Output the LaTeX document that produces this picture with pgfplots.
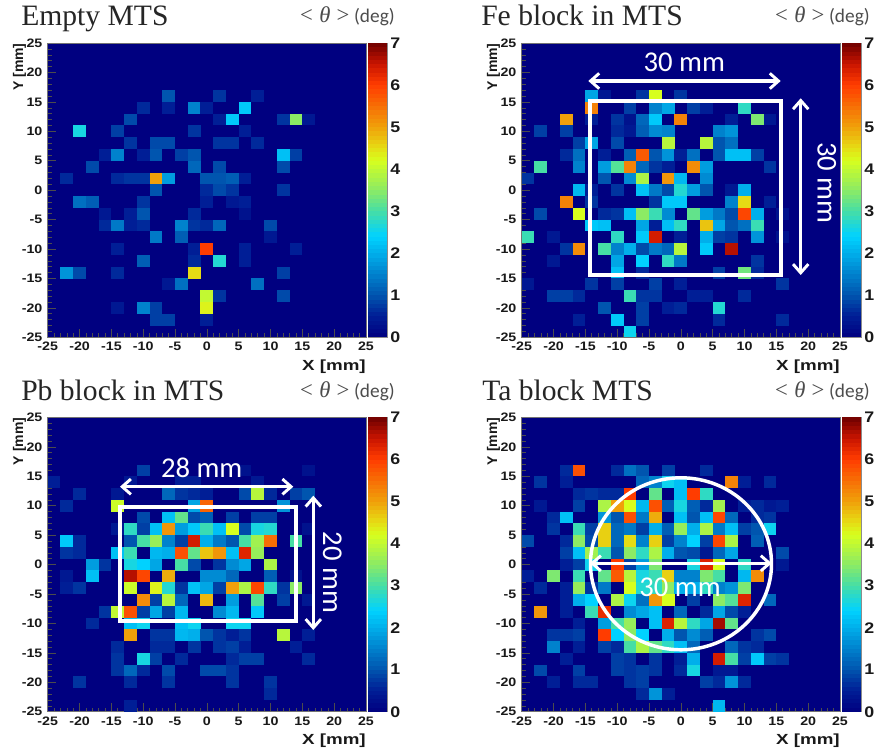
\documentclass[border=0pt]{standalone}
\usepackage{fontspec}
\setmainfont{Liberation Sans}
\newfontfamily\tickf[FakeStretch=1.16]{Liberation Sans}
\newfontfamily\xlabf[FakeStretch=1.28]{Liberation Sans}
\newfontfamily\titlef{Liberation Serif}
\newfontfamily\calib{Carlito}
\usepackage{pgfplots}
\usepackage{pgfplotstable}
\pgfplotsset{compat=1.18}
\usetikzlibrary{arrows.meta}
\pgfdeclareplotmark{cell}{%
  \pgfpathrectanglecorners{\pgfqpoint{-4.79pt}{-4.43pt}}{\pgfqpoint{4.79pt}{4.43pt}}%
  \pgfusepathqfill}
\pgfdeclareplotmark{barcell}{%
  \pgfpathrectanglecorners{\pgfqpoint{-7pt}{-1.65pt}}{\pgfqpoint{7pt}{1.65pt}}%
  \pgfusepathqfill}
\definecolor{navybg}{RGB}{0,0,128}

\pgfplotstableread[row sep=\\]{x y v\\%
-6 16 1.0\\2 16 0.7\\8 16 0.5\\%
-10 14 0.6\\-6 14 0.5\\-2 14 1.5\\0 14 0.5\\6 14 2.3\\%
-12 12 0.9\\2 12 0.5\\4 12 2.3\\12 12 0.7\\14 12 3.5\\16 12 0.4\\%
-20 10 2.6\\-14 10 0.8\\-2 10 0.7\\6 10 0.5\\%
-12 8 0.7\\-8 8 0.9\\-6 8 0.9\\2 8 0.7\\4 8 0.7\\8 8 0.6\\%
-16 6 0.5\\-14 6 1.5\\-10 6 0.5\\-8 6 1.0\\-4 6 0.8\\-2 6 1.0\\12 6 2.2\\14 6 0.8\\%
-18 4 0.9\\-2 4 1.2\\2 4 0.9\\12 4 0.9\\%
-22 2 0.6\\-14 2 0.6\\-12 2 0.7\\-10 2 0.7\\-8 2 5.0\\-6 2 1.8\\0 2 1.0\\2 2 1.0\\4 2 1.1\\6 2 0.5\\%
-8 0 1.0\\0 0 0.6\\2 0 0.9\\4 0 0.7\\12 0 0.7\\%
-20 -2 1.3\\-18 -2 1.1\\-10 -2 0.7\\0 -2 0.5\\4 -2 0.4\\6 -2 0.5\\%
-16 -4 0.4\\-12 -4 0.5\\-10 -4 1.0\\-2 -4 0.6\\6 -4 0.3\\%
-16 -6 0.6\\-14 -6 1.4\\-12 -6 0.5\\-10 -6 0.6\\-4 -6 1.5\\-2 -6 0.7\\0 -6 0.6\\2 -6 1.2\\10 -6 0.9\\%
-8 -8 1.4\\-4 -8 1.1\\10 -8 0.4\\%
-14 -10 0.5\\-2 -10 0.5\\0 -10 6.0\\6 -10 0.5\\14 -10 0.5\\%
-10 -12 1.1\\-2 -12 0.6\\2 -12 2.7\\6 -12 0.5\\%
-22 -14 1.7\\-20 -14 0.9\\-14 -14 0.6\\-2 -14 4.5\\12 -14 0.8\\%
-6 -16 0.4\\-4 -16 1.3\\8 -16 1.3\\%
0 -18 4.0\\2 -18 0.7\\12 -18 0.9\\%
-14 -20 0.4\\-10 -20 1.5\\-8 -20 0.8\\0 -20 4.3\\%
-8 -22 0.8\\-6 -22 0.8\\0 -22 0.5\\%
}\tabEmpty

\pgfplotstableread[row sep=\\]{x y v\\%
-14 16 1.9\\-12 16 0.4\\-6 16 0.7\\-4 16 4.2\\0 16 0.7\\%
-14 14 5.3\\-8 14 0.8\\-4 14 1.5\\-2 14 1.9\\2 14 0.8\\4 14 0.5\\10 14 2.8\\%
-18 12 5.0\\-14 12 0.5\\-10 12 0.7\\-8 12 0.3\\-6 12 1.2\\-4 12 2.3\\0 12 5.3\\8 12 0.5\\12 12 3.4\\14 12 0.4\\%
-22 10 0.8\\-18 10 0.8\\-10 10 0.6\\-8 10 0.4\\-6 10 1.1\\-4 10 1.6\\-2 10 1.5\\6 10 1.5\\8 10 1.7\\%
-16 8 0.8\\-14 8 1.9\\-10 8 0.9\\-2 8 3.9\\4 8 3.9\\6 8 1.0\\8 8 1.3\\%
-18 6 0.6\\-16 6 1.3\\-12 6 0.5\\-8 6 1.1\\-6 6 5.7\\-4 6 1.0\\-2 6 1.7\\0 6 0.5\\2 6 1.3\\6 6 1.0\\8 6 2.2\\10 6 2.2\\12 6 0.8\\%
-22 4 3.0\\-16 4 1.5\\-12 4 1.8\\-10 4 3.1\\-8 4 5.3\\-6 4 1.2\\-4 4 0.7\\-2 4 0.5\\2 4 5.2\\4 4 1.8\\14 4 0.7\\%
-24 2 0.7\\-12 2 1.0\\-8 2 1.6\\-6 2 3.8\\-2 2 5.1\\0 2 2.1\\4 2 1.6\\%
-16 0 2.1\\-14 0 0.5\\-10 0 0.7\\-6 0 2.2\\-4 0 1.4\\-2 0 0.9\\0 0 2.7\\2 0 1.8\\4 0 1.0\\8 0 0.4\\10 0 2.0\\%
-18 -2 5.3\\-14 -2 0.7\\-4 -2 0.7\\-2 -2 2.3\\0 -2 2.3\\8 -2 1.5\\10 -2 4.5\\14 -2 0.5\\%
-22 -4 0.9\\-16 -4 4.2\\-12 -4 0.6\\-10 -4 0.7\\-8 -4 2.2\\-6 -4 3.5\\-4 -4 2.9\\-2 -4 1.6\\2 -4 3.2\\4 -4 1.8\\6 -4 1.4\\8 -4 0.9\\10 -4 5.9\\12 -4 2.0\\16 -4 0.3\\%
-14 -6 2.3\\-12 -6 2.2\\-6 -6 1.9\\-4 -6 0.5\\-2 -6 2.2\\0 -6 2.8\\4 -6 4.7\\6 -6 1.9\\8 -6 1.0\\10 -6 1.3\\12 -6 2.9\\%
-24 -8 2.9\\-20 -8 0.4\\-10 -8 2.8\\-6 -8 2.3\\-4 -8 6.4\\0 -8 0.5\\4 -8 2.0\\6 -8 0.8\\8 -8 0.7\\12 -8 1.7\\16 -8 0.3\\%
-18 -10 0.7\\-16 -10 5.2\\-12 -10 3.0\\-10 -10 1.5\\-8 -10 2.0\\-6 -10 0.9\\-4 -10 1.4\\-2 -10 1.2\\0 -10 3.9\\4 -10 2.3\\8 -10 6.6\\%
-20 -12 0.4\\-10 -12 1.9\\-6 -12 2.4\\-2 -12 2.8\\0 -12 1.4\\12 -12 0.7\\%
-10 -14 2.2\\-6 -14 0.6\\6 -14 0.8\\10 -14 3.3\\12 -14 0.6\\%
-24 -16 0.4\\-14 -16 0.7\\-10 -16 0.8\\-4 -16 0.8\\0 -16 0.5\\16 -16 0.7\\%
-20 -18 0.8\\-18 -18 0.8\\-16 -18 0.6\\-8 -18 2.9\\-6 -18 0.7\\-4 -18 0.7\\2 -18 0.5\\4 -18 0.5\\10 -18 0.6\\%
-12 -20 1.0\\-6 -20 0.8\\-2 -20 0.5\\0 -20 0.6\\6 -20 2.7\\%
-16 -22 0.5\\-10 -22 2.3\\-6 -22 0.8\\6 -22 0.6\\16 -22 0.6\\%
-8 -24 2.5\\%
}\tabFe

\pgfplotstableread[row sep=\\]{x y v\\%
-10 16 0.8\\16 16 0.3\\6 16 0.3\\%
-24 14 0.5\\-12 14 0.4\\-4 14 0.5\\-2 14 0.5\\8 14 0.4\\%
-20 12 0.6\\-14 12 0.4\\-6 12 1.2\\-4 12 0.7\\-2 12 0.6\\0 12 0.5\\6 12 0.9\\8 12 3.9\\10 12 0.6\\14 12 0.8\\16 12 1.0\\%
-22 10 0.6\\-14 10 4.1\\-2 10 1.9\\0 10 5.6\\12 10 1.7\\%
-10 8 0.9\\-6 8 2.2\\-4 8 3.2\\-2 8 0.9\\0 8 1.1\\4 8 0.8\\8 8 0.8\\10 8 0.8\\%
-14 6 0.4\\-12 6 2.8\\-10 6 0.8\\-8 6 2.2\\-6 6 5.1\\-4 6 1.8\\-2 6 2.3\\0 6 2.9\\2 6 2.2\\4 6 4.2\\6 6 0.9\\8 6 2.6\\10 6 2.7\\16 6 0.3\\%
-22 4 2.3\\-20 4 0.6\\-12 4 1.0\\-10 4 3.0\\-8 4 3.6\\-6 4 1.5\\-4 4 0.8\\-2 4 6.4\\0 4 2.0\\2 4 1.4\\4 4 1.0\\6 4 3.0\\8 4 3.7\\10 4 5.5\\14 4 3.0\\%
-22 2 0.7\\-20 2 0.6\\-14 2 2.2\\-12 2 2.9\\-8 2 2.1\\-6 2 2.0\\-4 2 5.8\\-2 2 3.2\\0 2 4.7\\2 2 5.1\\4 2 2.2\\6 2 6.3\\8 2 3.6\\%
-18 0 1.8\\-16 0 0.7\\-12 0 2.6\\-10 0 2.4\\-8 0 1.9\\-4 0 3.0\\-2 0 0.9\\2 0 0.7\\4 0 1.6\\6 0 1.9\\10 0 3.8\\%
-22 -2 0.4\\-18 -2 2.2\\-12 -2 6.6\\-10 -2 5.9\\-6 -2 4.9\\0 -2 1.6\\2 -2 1.6\\4 -2 1.2\\10 -2 1.1\\14 -2 0.3\\%
-22 -4 0.5\\-20 -4 0.7\\-12 -4 4.1\\-8 -4 4.3\\-6 -4 2.7\\-4 -4 0.7\\-2 -4 2.2\\0 -4 1.9\\2 -4 0.8\\4 -4 5.0\\6 -4 3.8\\8 -4 5.9\\10 -4 2.8\\12 -4 0.7\\14 -4 3.5\\%
-10 -6 5.2\\-8 -6 0.8\\-6 -6 3.9\\-4 -6 1.2\\0 -6 4.8\\4 -6 1.8\\8 -6 3.1\\12 -6 0.8\\16 -6 0.4\\%
-16 -8 0.7\\-14 -8 4.0\\-12 -8 5.8\\-10 -8 0.8\\-8 -8 1.9\\-6 -8 0.8\\-4 -8 2.1\\2 -8 1.6\\4 -8 2.1\\8 -8 2.3\\%
-18 -10 0.6\\-12 -10 2.2\\-10 -10 2.5\\-4 -10 2.2\\-2 -10 2.5\\4 -10 2.5\\6 -10 2.5\\%
-12 -12 5.0\\-8 -12 0.7\\-6 -12 0.7\\-4 -12 2.1\\-2 -12 2.0\\0 -12 1.0\\2 -12 0.7\\4 -12 0.5\\6 -12 0.7\\12 -12 3.9\\16 -12 0.5\\%
-14 -14 0.6\\-8 -14 0.6\\-6 -14 0.6\\-2 -14 0.7\\2 -14 0.7\\4 -14 0.8\\6 -14 0.5\\14 -14 0.5\\%
-14 -16 0.7\\-10 -16 2.6\\-8 -16 0.8\\-4 -16 0.6\\4 -16 0.6\\6 -16 0.8\\8 -16 0.8\\16 -16 0.6\\%
-14 -18 0.7\\-12 -18 1.2\\-10 -18 0.6\\-6 -18 0.9\\0 -18 0.9\\2 -18 0.9\\4 -18 0.7\\%
-20 -20 0.7\\-12 -20 0.6\\-6 -20 0.7\\4 -20 0.7\\10 -20 0.7\\%
10 -22 0.6\\%
-12 -24 0.5\\%
}\tabPb

\pgfplotstableread[row sep=\\]{x y v\\%
-18 16 0.6\\-16 16 5.8\\-10 16 0.6\\-8 16 1.3\\-6 16 1.0\\-2 16 0.8\\4 16 0.6\\%
-22 14 0.7\\-18 14 0.5\\-6 14 1.2\\-4 14 1.5\\-2 14 2.5\\0 14 2.2\\8 14 5.3\\10 14 0.5\\14 14 0.6\\%
-16 12 0.6\\-14 12 0.7\\-12 12 0.6\\-10 12 0.6\\-8 12 6.0\\-4 12 3.2\\0 12 2.2\\2 12 6.0\\4 12 2.8\\%
-22 10 0.4\\-16 10 0.8\\-12 10 3.8\\-10 10 5.0\\-8 10 4.2\\-6 10 2.1\\-4 10 5.8\\-2 10 1.1\\0 10 2.6\\2 10 1.1\\4 10 0.6\\6 10 3.7\\10 10 0.5\\12 10 0.6\\14 10 0.4\\16 10 0.5\\%
-20 8 0.6\\-18 8 2.2\\-12 8 1.7\\-10 8 1.0\\-8 8 5.8\\-6 8 1.4\\-4 8 4.9\\0 8 2.2\\2 8 1.0\\4 8 2.2\\6 8 5.9\\8 8 1.2\\12 8 0.6\\14 8 0.7\\%
-20 6 0.7\\-16 6 2.9\\-14 6 0.8\\-12 6 4.6\\-10 6 1.2\\-8 6 1.4\\-6 6 0.8\\-4 6 2.0\\-2 6 1.1\\0 6 3.6\\2 6 2.0\\4 6 3.8\\6 6 1.4\\8 6 2.2\\10 6 0.8\\12 6 1.0\\14 6 2.5\\%
-24 4 0.9\\-18 4 0.6\\-16 4 3.5\\-14 4 0.9\\-12 4 4.6\\-10 4 1.2\\-8 4 4.5\\-6 4 1.5\\-4 4 4.6\\-2 4 0.8\\0 4 1.5\\2 4 2.4\\4 4 0.8\\6 4 5.9\\8 4 3.8\\12 4 1.1\\%
-18 2 0.8\\-16 2 2.2\\-14 2 3.7\\-12 2 2.9\\-10 2 1.0\\-8 2 3.5\\-6 2 2.8\\-4 2 3.8\\-2 2 2.0\\0 2 1.0\\2 2 0.9\\4 2 0.4\\6 2 1.2\\8 2 1.9\\16 2 0.9\\%
-18 0 0.5\\-16 0 0.8\\-14 0 2.5\\-10 0 6.0\\-8 0 0.8\\-6 0 1.8\\-4 0 3.4\\2 0 2.6\\4 0 6.3\\6 0 4.2\\10 0 2.8\\16 0 0.4\\%
-24 -2 0.5\\-20 -2 3.4\\-16 -2 2.9\\-12 -2 3.2\\-10 -2 5.7\\-8 -2 3.9\\-6 -2 2.6\\-4 -2 2.9\\-2 -2 4.6\\0 -2 1.5\\2 -2 1.5\\4 -2 3.4\\6 -2 3.0\\10 -2 2.1\\12 -2 5.2\\%
-22 -4 0.6\\-18 -4 0.5\\-16 -4 3.6\\-14 -4 0.7\\-12 -4 1.4\\-8 -4 4.2\\-6 -4 2.7\\-4 -4 2.8\\-2 -4 3.5\\0 -4 2.0\\2 -4 2.0\\4 -4 2.8\\6 -4 1.5\\8 -4 1.7\\10 -4 3.4\\%
-18 -6 0.5\\-16 -6 2.0\\-14 -6 2.4\\-10 -6 3.8\\-8 -6 2.5\\-6 -6 1.3\\-4 -6 5.1\\-2 -6 4.2\\2 -6 0.8\\6 -6 3.5\\8 -6 3.1\\10 -6 6.3\\14 -6 1.2\\%
-22 -8 5.1\\-18 -8 0.5\\-14 -8 2.9\\-12 -8 6.2\\-8 -8 1.6\\-6 -8 1.9\\-4 -8 2.2\\0 -8 1.2\\4 -8 0.6\\6 -8 1.9\\8 -8 0.9\\10 -8 0.5\\%
-16 -10 0.5\\-12 -10 1.8\\-10 -10 3.0\\-8 -10 3.6\\-4 -10 2.2\\-2 -10 6.3\\0 -10 3.9\\2 -10 2.8\\4 -10 1.9\\6 -10 6.7\\8 -10 3.2\\%
-20 -12 0.7\\-18 -12 0.7\\-16 -12 0.8\\-12 -12 6.0\\-10 -12 2.4\\-8 -12 3.5\\-6 -12 2.4\\-2 -12 2.0\\0 -12 1.0\\2 -12 1.6\\4 -12 1.1\\12 -12 0.7\\14 -12 0.9\\%
-20 -14 1.5\\-16 -14 0.5\\-12 -14 0.8\\-10 -14 0.6\\-8 -14 3.0\\-6 -14 3.8\\-4 -14 3.2\\-2 -14 2.8\\0 -14 2.2\\2 -14 1.2\\8 -14 1.2\\10 -14 0.7\\12 -14 0.6\\%
-18 -16 0.5\\-10 -16 0.8\\-8 -16 0.7\\-4 -16 0.7\\0 -16 0.5\\2 -16 2.0\\6 -16 6.4\\8 -16 3.0\\10 -16 0.8\\12 -16 2.3\\14 -16 0.8\\16 -16 0.7\\%
-22 -18 0.9\\-16 -18 0.8\\-10 -18 0.8\\-8 -18 0.7\\-6 -18 0.8\\-4 -18 0.7\\0 -18 0.6\\2 -18 2.6\\6 -18 0.4\\8 -18 0.4\\%
-20 -20 0.5\\-16 -20 0.6\\-14 -20 0.6\\-8 -20 0.7\\-6 -20 0.8\\4 -20 0.8\\6 -20 0.6\\8 -20 1.7\\10 -20 0.6\\%
-6 -22 0.6\\-4 -22 1.7\\-2 -22 0.5\\%
6 -24 2.1\\%
}\tabTa

\pgfplotsset{
  rootmap/.style={colormap={root}{
    rgb255(0cm)=(0,0,128)
    rgb255(5cm)=(0,30,150)
    rgb255(10cm)=(0,85,175)
    rgb255(20cm)=(0,175,235)
    rgb255(24cm)=(0,210,255)
    rgb255(30cm)=(70,222,165)
    rgb255(35cm)=(140,235,100)
    rgb255(42cm)=(215,255,30)
    rgb255(45cm)=(230,220,20)
    rgb255(50cm)=(240,160,10)
    rgb255(60cm)=(255,60,0)
    rgb255(65cm)=(200,20,0)
    rgb255(70cm)=(110,0,0)
  }},
  panel/.style={
    rootmap,
    scale only axis,
    width=238.7pt, height=220.7pt,
    xmin=-25, xmax=25, ymin=-25, ymax=25,
    point meta min=0, point meta max=7,
    axis background/.style={fill=navybg},
    axis on top,
    axis line style={color=black!55, line width=0.5pt},
    tick align=inside,
    tick pos=left,
    tick style={color=black!70, line width=0.45pt},
    major tick length=6.5pt,
    minor tick length=3pt,
    minor tick num=4,
    xtick={-25,-20,-15,-10,-5,0,5,10,15,20,25},
    ytick={-25,-20,-15,-10,-5,0,5,10,15,20,25},
    xticklabels={-25,-20,-15,-10,-5,0,5,10,15,20,25},
    yticklabels={-25,-20,-15,-10,-5,0,5,10,15,20,25},
    ticklabel style={font=\tickf\bfseries\fontsize{9.2}{10}\selectfont, color=black!90},
    xticklabel style={yshift=-2.5pt, inner sep=1pt},
    yticklabel style={xshift=-0.5pt},
    xlabel={X [mm]}, ylabel={Y [mm]},
    xlabel style={font=\xlabf\bfseries\fontsize{11}{12}\selectfont, color=black!90,
      at={(axis description cs:1,-0.0745)},anchor=north east,inner sep=0pt},
    ylabel style={font=\bfseries\fontsize{10.5}{11}\selectfont, color=black!90,
      at={(axis description cs:-0.0885,1)},anchor=east,inner sep=0pt},
  },
  barpanel/.style={
    rootmap,
    scale only axis,
    width=14pt, height=220.7pt,
    xmin=0, xmax=1, ymin=0, ymax=7,
    point meta min=0, point meta max=7,
    ytick={0,1,2,3,4,5,6,7},
    yticklabels={0,1,2,3,4,5,6,7},
    xtick=\empty,
    minor tick num=0,
    ytick pos=right,
    yticklabel pos=right,
    tick align=inside,
    major tick length=4pt,
    tick style={color=black!65, line width=0.5pt},
    axis on top,
    axis line style={color=black!45, line width=0.4pt},
    yticklabel style={font=\tickf\bfseries\fontsize{11.5}{12}\selectfont, xshift=-1pt, color=black!90},
  },
  hcells/.style={scatter, only marks, mark=cell,
    scatter/use mapped color={draw=none, fill=mapped color},
    point meta=explicit},
  hbar/.style={scatter, only marks, mark=barcell,
    scatter/use mapped color={draw=none, fill=mapped color},
    point meta=y},
}
\newcommand{\barsteps}{(0.5,0.05)(0.5,0.15)(0.5,0.25)(0.5,0.35)(0.5,0.45)(0.5,0.55)(0.5,0.65)(0.5,0.75)(0.5,0.85)(0.5,0.95)
(0.5,1.05)(0.5,1.15)(0.5,1.25)(0.5,1.35)(0.5,1.45)(0.5,1.55)(0.5,1.65)(0.5,1.75)(0.5,1.85)(0.5,1.95)
(0.5,2.05)(0.5,2.15)(0.5,2.25)(0.5,2.35)(0.5,2.45)(0.5,2.55)(0.5,2.65)(0.5,2.75)(0.5,2.85)(0.5,2.95)
(0.5,3.05)(0.5,3.15)(0.5,3.25)(0.5,3.35)(0.5,3.45)(0.5,3.55)(0.5,3.65)(0.5,3.75)(0.5,3.85)(0.5,3.95)
(0.5,4.05)(0.5,4.15)(0.5,4.25)(0.5,4.35)(0.5,4.45)(0.5,4.55)(0.5,4.65)(0.5,4.75)(0.5,4.85)(0.5,4.95)
(0.5,5.05)(0.5,5.15)(0.5,5.25)(0.5,5.35)(0.5,5.45)(0.5,5.55)(0.5,5.65)(0.5,5.75)(0.5,5.85)(0.5,5.95)
(0.5,6.05)(0.5,6.15)(0.5,6.25)(0.5,6.35)(0.5,6.45)(0.5,6.55)(0.5,6.65)(0.5,6.75)(0.5,6.85)(0.5,6.95)}
\tikzset{
  whitearrow/.style={draw=white, line width=2.4pt,
    {Straight Barb[length=6.5pt,width=11.5pt,line width=2.2pt]}-{Straight Barb[length=6.5pt,width=11.5pt,line width=2.2pt]}},
  title/.style={anchor=base west, inner sep=0pt, font=\titlef\fontsize{22.2}{23}\selectfont, color=black!85},
  dim/.style={text=white, inner sep=0pt, font=\calib\fontsize{21.5}{22}\selectfont},
}
\newcommand{\thetaavg}{{\titlef\fontsize{17}{17}\selectfont\color{black!70}<\;\textit{θ}\;>}\hspace{3.5pt}{\calib\fontsize{14.5}{15}\selectfont\color{black!70}(deg)}}

\begin{document}
\begin{tikzpicture}
\path[use as bounding box] (0,0) rectangle (656.25pt,-561pt);

\begin{axis}[panel, at={(35.8pt,-253pt)}, anchor=south west]
\addplot[hcells] table[meta=v] {\tabEmpty};
\end{axis}
\begin{axis}[panel, at={(391.3pt,-253pt)}, anchor=south west]
\addplot[hcells] table[meta=v] {\tabFe};
\end{axis}
\begin{axis}[panel, at={(35.8pt,-533.8pt)}, anchor=south west]
\addplot[hcells] table[meta=v] {\tabPb};
\end{axis}
\begin{axis}[panel, at={(391.3pt,-533.8pt)}, anchor=south west]
\addplot[hcells] table[meta=v] {\tabTa};
\end{axis}

\begin{axis}[barpanel, at={(276.2pt,-253pt)}, anchor=south west]
\addplot[hbar] coordinates {\barsteps};
\end{axis}
\begin{axis}[barpanel, at={(631.7pt,-253pt)}, anchor=south west]
\addplot[hbar] coordinates {\barsteps};
\end{axis}
\begin{axis}[barpanel, at={(276.2pt,-533.8pt)}, anchor=south west]
\addplot[hbar] coordinates {\barsteps};
\end{axis}
\begin{axis}[barpanel, at={(631.7pt,-533.8pt)}, anchor=south west]
\addplot[hbar] coordinates {\barsteps};
\end{axis}

\begin{scope}[x=0.75pt,y=-0.75pt]
% titles
\node[title] at (21,26) {Empty MTS};
\node[title] at (481,26) {Fe block in MTS};
\node[title] at (21,401) {Pb block in MTS};
\node[title] at (482,401) {Ta block MTS};
\node[anchor=base east,inner sep=0pt] at (395,23) {\thetaavg};
\node[anchor=base east,inner sep=0pt] at (870,23) {\thetaavg};
\node[anchor=base east,inner sep=0pt] at (395,398) {\thetaavg};
\node[anchor=base east,inner sep=0pt] at (870,398) {\thetaavg};
% Fe annotations
\draw[white, line width=3pt] (590.3,101.3) rectangle (781.3,275.3);
\draw[whitearrow] (588.3,81) -- (780.7,81);
\draw[whitearrow] (800.7,98.3) -- (800.7,275);
\node[dim] at (684.3,62) {30 mm};
\node[dim, rotate=-90] at (826.7,182.7) {30 mm};
% Pb annotations
\draw[white, line width=3pt] (120.3,506.7) rectangle (295.7,621.3);
\draw[whitearrow] (120,486.7) -- (293.3,486.7);
\draw[whitearrow] (313.3,495.7) -- (313.3,630);
\node[dim] at (201.7,467.7) {28 mm};
\node[dim, rotate=-90] at (332.3,572.3) {20 mm};
% Ta annotations
\draw[white, line width=2.6pt] (681,563.8) ellipse [x radius=90.5, y radius=86];
\draw[whitearrow] (590,563.3) -- (771.7,563.3);
\node[dim] at (680,587.7) {30 mm};
\end{scope}
\end{tikzpicture}
\end{document}
